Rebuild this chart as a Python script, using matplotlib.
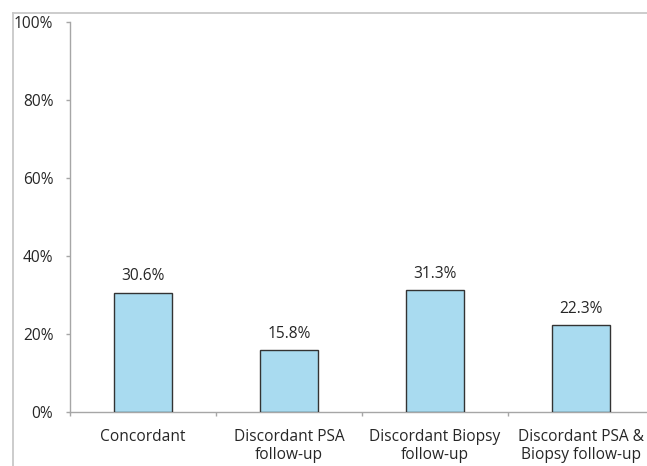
import matplotlib
matplotlib.use("Agg")
import matplotlib.pyplot as plt
from matplotlib.lines import Line2D
import numpy as np

categories = ["Concordant", "Discordant PSA\nfollow-up", "Discordant Biopsy\nfollow-up",
              "Discordant PSA &\nBiopsy follow-up"]
values = [30.6, 15.8, 31.3, 22.3]
y_ticks = [0, 20, 40, 60, 80, 100]
y_tick_labels = ["0%", "20%", "40%", "60%", "80%", "100%"]

plt.rcParams["font.family"] = ["Open Sans", "DejaVu Sans"]
FS = 11.2
TXT = "#262626"

fig = plt.figure(figsize=(6.47, 4.66), dpi=100)
# outer chart frame (top and left edges)
fx, fy = 12.5 / 647, 1 - 12.5 / 466
fig.lines.append(Line2D([fx, 1.0], [fy, fy], transform=fig.transFigure,
                        color="#c8c8c8", linewidth=1.3))
fig.lines.append(Line2D([fx, fx], [0.0, fy], transform=fig.transFigure,
                        color="#c8c8c8", linewidth=1.3))

ax = fig.add_axes([70 / 647, 54 / 466, 584 / 647, 390 / 466])
x = np.arange(len(categories))
ax.bar(x, values, width=0.4, color="#a9dbf0", edgecolor="#333333", linewidth=1.0, zorder=3)
for xi, v in zip(x, values):
    ax.annotate(f"{v:.1f}%", (xi, v), xytext=(0, 6), textcoords="offset points",
                ha="center", va="bottom", fontsize=FS, color=TXT)

ax.set_xlim(-0.5, len(categories) - 0.5)
ax.set_ylim(0, 100)
ax.set_yticks(y_ticks)
ax.set_yticklabels(y_tick_labels, fontsize=FS, color=TXT)
ax.set_xticks(x)
ax.set_xticklabels(categories, fontsize=FS, color=TXT, linespacing=1.2)
ax.tick_params(axis="x", length=0, pad=12)
ax.set_xticks(np.arange(-0.5, len(categories), 1.0), minor=True)
ax.tick_params(axis="x", which="minor", length=3, color="#a6a6a6", width=1)
ax.tick_params(axis="y", length=3, color="#a6a6a6", width=1, pad=9)

for side in ["top", "right"]:
    ax.spines[side].set_visible(False)
for side in ["left", "bottom"]:
    ax.spines[side].set_color("#a6a6a6")
    ax.spines[side].set_linewidth(1)

fig.savefig("out.png", dpi=100)
